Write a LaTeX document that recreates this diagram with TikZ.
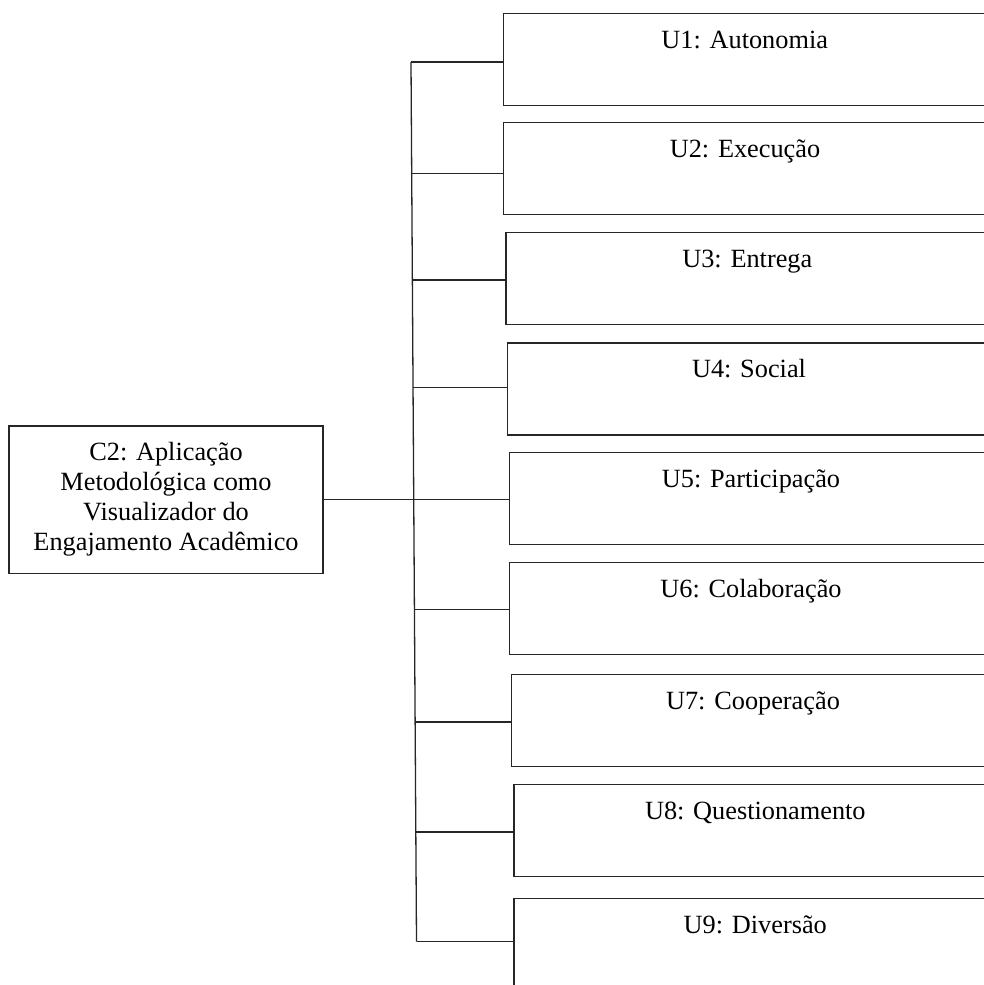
\documentclass[tikz,border=0pt]{standalone}
\usepackage{fontspec}
\setmainfont{Liberation Serif}
\usetikzlibrary{calc}

\tikzset{
  ln/.style={line width=1.3pt, draw=black!85},
  ubox/.style={ln, draw, rectangle, anchor=north west, inner sep=0pt,
    minimum width=500pt, minimum height=92pt},
  utext/.style={anchor=base, inner sep=0pt, font=\fontsize{26.3}{30}\selectfont},
  cbox/.style={ln, draw, rectangle, inner sep=0pt, minimum width=314pt,
    minimum height=147.3pt, align=center,
    font=\fontsize{26.3}{30}\selectfont},
}

\begin{document}
\begin{tikzpicture}[x=1pt, y=-1pt]
  \clip (0,0) rectangle (984,985);
  \useasboundingbox (0,0) rectangle (984,985);

  % central category
  \node[cbox] (c2) at (166,499.5)
    {C2: Aplicação\\Metodológica como\\Visualizador do\\Engajamento Acadêmico};

  % unit boxes (open towards the right margin)
  \foreach \i/\xl/\yt/\lab in {
      1/502.7/13/{U1: Autonomia},
      2/503/121.7/{U2: Execução},
      3/505.3/231.7/{U3: Entrega},
      4/507/342.3/{U4: Social},
      5/509/452/{U5: Participação},
      6/509/561.7/{U6: Colaboração},
      7/511/674/{U7: Cooperação},
      8/513.3/784/{U8: Questionamento},
      9/513.3/897.7/{U9: Diversão}} {
    \node[ubox] (u\i) at (\xl,\yt) {};
    \node[utext] (t\i) at ([xshift=242pt, yshift=-35.5pt]u\i.north west) {\lab};
  }

  % branch points on the trunk
  \coordinate (b1) at (411,62);
  \coordinate (b2) at (411.7,173.3);
  \coordinate (b3) at (412.4,280);
  \coordinate (b4) at (413,387.7);
  \coordinate (b5) at (413.7,499.5);
  \coordinate (b6) at (414.4,609.7);
  \coordinate (b7) at (415.1,722);
  \coordinate (b8) at (415.8,832);
  \coordinate (b9) at (416.5,941.7);

  % trunk and connectors
  \draw[ln] (b1) -- (b9);
  \draw[ln] (c2.east) -- (b5);
  \foreach \i in {1,...,9} {
    \draw[ln] (b\i) -- (b\i -| u\i.west);
  }
\end{tikzpicture}
\end{document}
